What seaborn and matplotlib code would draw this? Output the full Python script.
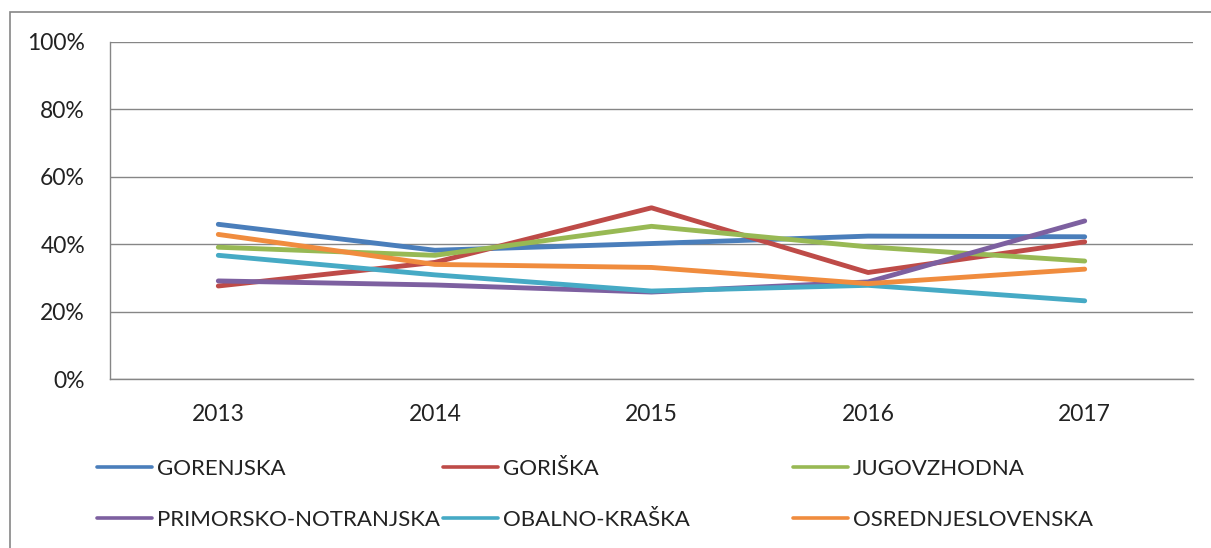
import matplotlib
matplotlib.use("Agg")
import matplotlib.pyplot as plt
import pandas as pd
import seaborn as sns
from matplotlib.lines import Line2D
from matplotlib.patches import Rectangle
from matplotlib.ticker import FixedLocator, PercentFormatter

years = ["2013", "2014", "2015", "2016", "2017"]
regions = ["GORENJSKA", "GORIŠKA", "JUGOVZHODNA",
           "PRIMORSKO-NOTRANJSKA", "OBALNO-KRAŠKA", "OSREDNJESLOVENSKA"]
gorenjska = [45.9, 38.2, 40.2, 42.4, 42.2]
goriska = [27.6, 34.6, 50.8, 31.6, 40.7]
jugovzhodna = [39.1, 36.7, 45.3, 39.2, 35.0]
primorsko = [29.1, 27.9, 25.8, 28.8, 46.9]
obalno = [36.7, 30.9, 26.1, 27.8, 23.2]
osrednje = [42.9, 34.0, 33.1, 28.3, 32.6]
colors = ["#4A7EBB", "#BE4B48", "#98B954", "#7D60A0", "#46AAC5", "#F08C3E"]

series = [gorenjska, goriska, jugovzhodna, primorsko, obalno, osrednje]
df = pd.DataFrame([
    {"region": r, "pos": i, "value": v}
    for r, vals in zip(regions, series)
    for i, v in enumerate(vals)
])

sns.set_style("white")
plt.rcParams["font.family"] = ["Lato", "DejaVu Sans"]
grey = "#868686"

fig = plt.figure(figsize=(12.11, 5.48), dpi=100)
ax = fig.add_axes([110 / 1211, 1 - 379 / 548, (1193 - 110) / 1211, (379 - 42) / 548])

sns.lineplot(data=df, x="pos", y="value", hue="region", hue_order=regions,
             palette=colors, linewidth=3.5, legend=False, sort=False, ax=ax,
             solid_capstyle="round")

ax.set_xlim(-0.5, len(years) - 0.5)
ax.set_ylim(0, 100)
ax.set_xlabel("")
ax.set_ylabel("")

ax.set_yticks(range(0, 101, 20))
ax.yaxis.set_major_formatter(PercentFormatter(100, decimals=0))
ax.set_xticks(range(len(years)))
ax.set_xticklabels(years)
ax.xaxis.set_minor_locator(FixedLocator([i - 0.5 for i in range(len(years) + 1)]))
ax.tick_params(axis="x", which="major", length=0, pad=18, labelsize=16.5, colors="#222222")
ax.tick_params(axis="x", which="minor", length=6, width=1, color=grey, direction="out")
ax.tick_params(axis="y", length=6, width=1, color=grey, direction="out", pad=12,
               labelsize=16.5, labelcolor="#222222")
ax.grid(axis="y", color=grey, linewidth=1)
ax.grid(axis="x", visible=False)
for side in ["top", "right"]:
    ax.spines[side].set_visible(False)
for side in ["left", "bottom"]:
    ax.spines[side].set_color(grey)
    ax.spines[side].set_linewidth(1)
ax.set_axisbelow(True)

# legend: three columns of two rows, like the Excel layout
col_x = [97 / 1211, 443 / 1211, 793 / 1211]
for c in range(3):
    idx = [c, c + 3]
    handles = [Line2D([], [], color=colors[i], linewidth=2.6, solid_capstyle="round") for i in idx]
    leg = fig.legend(handles, [regions[i] for i in idx], loc="upper left",
                     bbox_to_anchor=(col_x[c], 1 - 459 / 548), frameon=False,
                     fontsize=16, handlelength=2.48, handletextpad=0.2,
                     borderpad=0, borderaxespad=0, labelspacing=1.4)
    for t in leg.get_texts():
        t.set_color("#222222")

# outer chart border (top and left visible)
fig.patches.append(Rectangle((10 / 1211, -0.2), 1.1, 1.2 - 12 / 548,
                             transform=fig.transFigure, fill=False,
                             edgecolor=grey, linewidth=1.2))

fig.savefig("out.png", dpi=100)
